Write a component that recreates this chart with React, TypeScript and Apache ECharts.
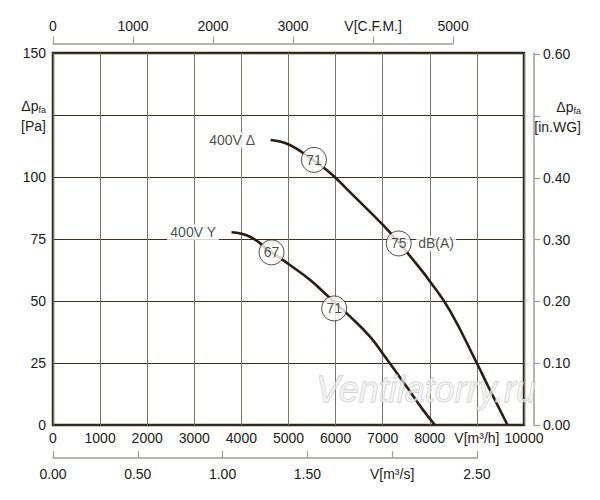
import React, { useEffect, useRef } from 'react';
import * as echarts from 'echarts';

const FONT = '"Liberation Sans", Arial, Helvetica, sans-serif';
const INK = '#231c15';
const CURVE = '#2a1d12';
const AXIS_GREY = '#a39c92';

// ---- data ----
const deltaFlow = [4620, 5030, 5540, 5810, 6020, 6310, 7010, 7340, 7650, 8000, 8430, 9000, 9280, 9650];
const deltaPress = [114.9, 112.9, 106.6, 102.8, 99.3, 93.8, 80.6, 73.5, 66.5, 58.0, 46.0, 24.9, 14.0, 0];
const starFlow = [3790, 4180, 4640, 5030, 5460, 5810, 6270, 6730, 7050, 7510, 7860, 8110];
const starPress = [77.7, 75.9, 69.7, 64.5, 58.5, 52.4, 44.4, 35.6, 27.5, 15.4, 6.0, 0];
const curveNames = ['400V Δ', '400V Y'];

const markerFlow = [5540, 7340, 4640, 5970];
const markerPress = [106.9, 73.2, 69.6, 47.0];
const markerDb = ['71', '75', '67', '71'];
const dbUnitIndex = 1; // marker that carries the "dB(A)" unit

const flowTickLabels = ['0', '1000', '2000', '3000', '4000', '5000', '6000', '7000', '8000', 'V[m³/h]', '10000'];
const cfmTickLabels = ['0', '1000', '2000', '3000', 'V[C.F.M.]', '5000'];
const m3sTickLabels = ['0.00', '0.50', '1.00', '1.50', 'V[m³/s]', '2.50'];
const paTickLabels = ['0', '25', '50', '75', '100', '{a|Δp}{s|fa}\n{b|[Pa]}', '150'];
const inwgTickValues = [0, 0.1, 0.2, 0.3, 0.4, 0.5, 0.6];
const inwgTickLabels = ['0.00', '0.10', '0.20', '0.30', '0.40', '', '0.60'];

const M3H_PER_CFM = 1.69901;
const M3H_PER_M3S = 3600;
const PA_PER_INWG = 249.089;
const FLOW_MAX = 10000;
const PA_MAX = 150;

// ---- layout ----
const GL = 53, GT = 53, GW = 471, GH = 372;
const RIGHT_OFFSET = 10;

const richSub = {
  a: { fontSize: 14, fontFamily: FONT, color: INK, lineHeight: 20, padding: [2, 0, 0, 0] },
  s: { fontSize: 9, fontFamily: FONT, color: INK, padding: [9, 0, 0, 0], lineHeight: 20 },
  b: { fontSize: 14, fontFamily: FONT, color: INK, lineHeight: 20, padding: [2, 0, 0, 0] },
};

const labelBase = { fontSize: 14, fontFamily: FONT, color: INK };

function buildOption(): any {
  return {
    animation: false,
    backgroundColor: '#ffffff',
    grid: [
      { left: GL, top: GT, width: GW, height: GH, show: true, borderColor: '#2e2417', borderWidth: 2.5, backgroundColor: '#ffffff' },
      { left: GL, top: GT - 10.5, width: (GW * 5000 * M3H_PER_CFM) / FLOW_MAX, height: 1 },
      { left: GL, top: GT + GH + 32, width: (GW * 2.5 * M3H_PER_M3S) / FLOW_MAX, height: 1 },
    ],
    xAxis: [
      {
        type: 'value', gridIndex: 0, position: 'bottom', min: 0, max: FLOW_MAX, interval: 1000,
        axisLine: { show: false }, axisTick: { show: false },
        splitLine: { show: true, lineStyle: { color: '#7d7468', width: 1 } },
        axisLabel: { ...labelBase, margin: 6, formatter: (v: number) => flowTickLabels[Math.round(v / 1000)] ?? '' },
      },
      {
        type: 'value', gridIndex: 1, position: 'top', min: 0, max: 5000, interval: 1000,
        axisLine: { show: true, lineStyle: { color: AXIS_GREY, width: 1.5 } },
        axisTick: { show: true, inside: false, length: 7, lineStyle: { color: AXIS_GREY, width: 1.2 } },
        splitLine: { show: false },
        axisLabel: { ...labelBase, margin: 10, formatter: (v: number) => cfmTickLabels[Math.round(v / 1000)] ?? '' },
      },
      {
        type: 'value', gridIndex: 2, position: 'bottom', min: 0, max: 2.5, interval: 0.5,
        axisLine: { show: true, lineStyle: { color: AXIS_GREY, width: 1.5 } },
        axisTick: { show: true, inside: true, length: 7, lineStyle: { color: AXIS_GREY, width: 1.2 } },
        splitLine: { show: false },
        axisLabel: { ...labelBase, margin: 9, formatter: (v: number) => m3sTickLabels[Math.round(v / 0.5)] ?? '' },
      },
    ],
    yAxis: [
      {
        type: 'value', gridIndex: 0, position: 'left', min: 0, max: PA_MAX, interval: 25,
        axisLine: { show: false }, axisTick: { show: false },
        splitLine: { show: true, lineStyle: { color: '#3b3024', width: 1 } },
        axisLabel: { ...labelBase, margin: 7, rich: richSub, formatter: (v: number) => paTickLabels[Math.round(v / 25)] ?? '' },
      },
      {
        type: 'value', gridIndex: 0, position: 'right', offset: RIGHT_OFFSET, min: 0, max: PA_MAX / PA_PER_INWG,
        axisLine: { show: true, onZero: false, lineStyle: { color: AXIS_GREY, width: 1.5 } },
        axisTick: { show: true, length: 6, customValues: inwgTickValues, lineStyle: { color: AXIS_GREY, width: 1.2 } },
        splitLine: { show: false },
        axisLabel: {
          ...labelBase, margin: 9, customValues: inwgTickValues,
          formatter: (v: number) => {
            const i = Math.round(v * 10);
            if (Math.abs(v * 10 - i) > 1e-6) return '';
            return inwgTickLabels[i] ?? '';
          },
        },
      },
      { type: 'value', gridIndex: 1, show: false, min: 0, max: 1 },
      { type: 'value', gridIndex: 2, show: false, min: 0, max: 1 },
    ],
    series: [
      {
        type: 'line', name: curveNames[0], xAxisIndex: 0, yAxisIndex: 0,
        data: deltaFlow.map((f, i) => [f, deltaPress[i]]),
        showSymbol: false, smooth: 0.45, silent: true,
        lineStyle: { color: CURVE, width: 2.6 }, z: 3,
      },
      {
        type: 'line', name: curveNames[1], xAxisIndex: 0, yAxisIndex: 0,
        data: starFlow.map((f, i) => [f, starPress[i]]),
        showSymbol: false, smooth: 0.45, silent: true,
        lineStyle: { color: CURVE, width: 2.6 }, z: 3,
      },
      {
        type: 'scatter', xAxisIndex: 0, yAxisIndex: 0, silent: true, z: 5,
        symbol: 'circle', symbolSize: 25,
        itemStyle: { color: '#ffffff', borderColor: CURVE, borderWidth: 1 },
        data: markerFlow.map((f, i) => ({ value: [f, markerPress[i]], name: markerDb[i] })),
        label: { show: true, position: 'inside', ...labelBase, formatter: (p: any) => p.name },
      },
      {
        type: 'scatter', xAxisIndex: 0, yAxisIndex: 0, silent: true, z: 4,
        symbolSize: 1, itemStyle: { color: 'rgba(0,0,0,0)' },
        data: [
          { value: [deltaFlow[0], deltaPress[0]], name: curveNames[0] },
          { value: [starFlow[0], starPress[0]], name: curveNames[1] },
        ],
        label: {
          show: true, position: 'left', distance: 12, ...labelBase,
          backgroundColor: '#ffffff', padding: [1, 3],
          formatter: (p: any) => p.name,
        },
      },
      {
        type: 'scatter', xAxisIndex: 0, yAxisIndex: 0, silent: true, z: 4,
        symbolSize: 25, itemStyle: { color: 'rgba(0,0,0,0)' },
        data: [{ value: [markerFlow[dbUnitIndex], markerPress[dbUnitIndex]], name: 'dB(A)' }],
        label: {
          show: true, position: 'right', distance: 5, ...labelBase,
          backgroundColor: '#ffffff', padding: [1, 2],
          formatter: (p: any) => p.name,
        },
      },
    ],
  };
}

export default function App() {
  const ref = useRef<HTMLDivElement>(null);
  useEffect(() => {
    if (!ref.current) return;
    const chart = echarts.init(ref.current, null, { renderer: 'svg' });
    chart.setOption(buildOption());
    const yMid = chart.convertToPixel({ yAxisIndex: 1 }, 0.5) as number;
    const rightAxisX = GL + GW + RIGHT_OFFSET;
    chart.setOption({
      graphic: [
        {
          type: 'text', z: 10, silent: true,
          x: rightAxisX + 47, y: yMid,
          style: {
            text: '{a|Δp}{s|fa}\n{b|[in.WG]}',
            rich: richSub, align: 'right', verticalAlign: 'middle', fill: INK,
            font: `14px ${FONT}`,
          },
        },
        {
          type: 'text', z: 20, silent: true,
          x: GL + 263, y: GT + GH - 36,
          style: {
            text: 'Ventilatorry.ru',
            font: `italic 36px ${FONT}`,
            fill: 'rgba(240,240,240,0.7)', stroke: 'rgba(180,180,180,0.85)', lineWidth: 0.8,
            verticalAlign: 'middle', align: 'left',
          },
        },
      ],
    });
    return () => chart.dispose();
  }, []);
  return (
    <div
      ref={ref}
      style={{ position: 'fixed', left: 0, top: 0, width: 600, height: 500, background: '#ffffff' }}
    />
  );
}
